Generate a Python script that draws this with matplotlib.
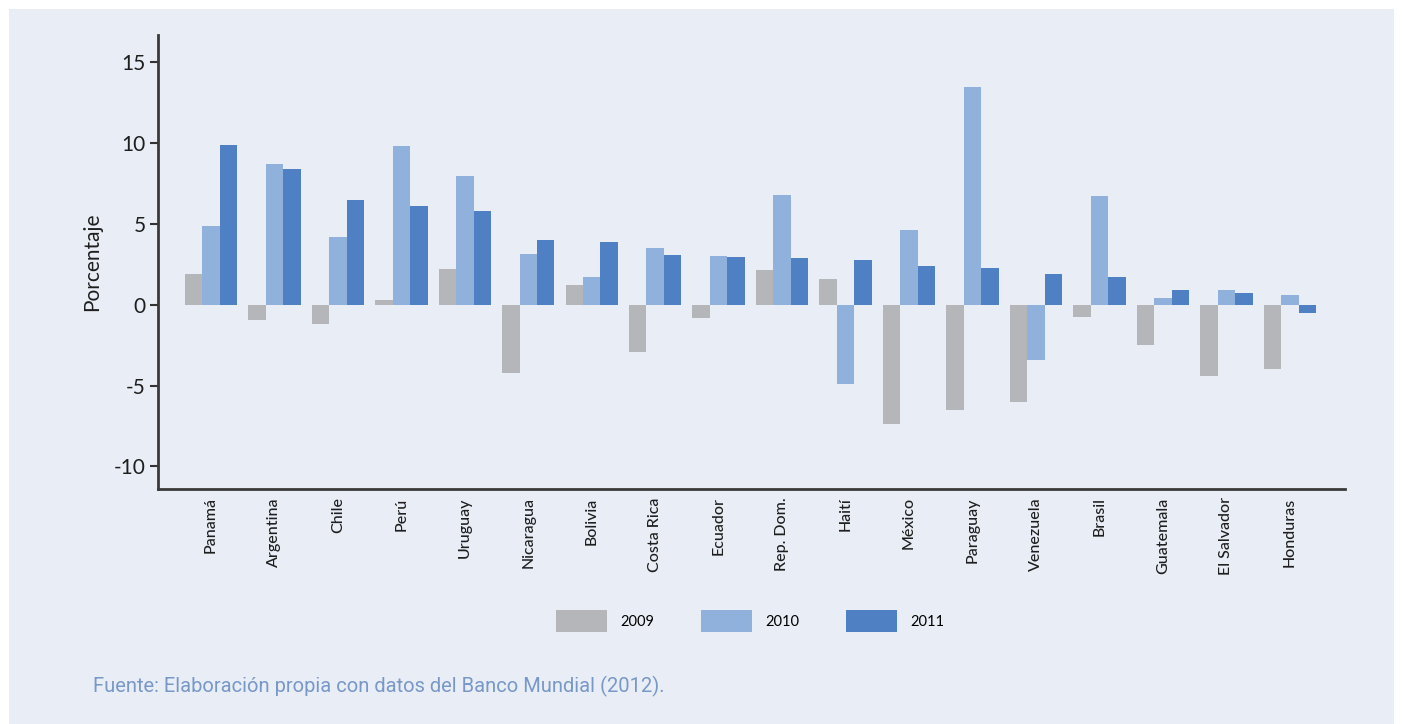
import numpy as np
from matplotlib import pyplot as plt
from matplotlib.patches import Rectangle

# Data (crecimiento, %)
paises = ['Panamá', 'Argentina', 'Chile', 'Perú', 'Uruguay', 'Nicaragua', 'Bolivia',
          'Costa Rica', 'Ecuador', 'Rep. Dom.', 'Haití', 'México', 'Paraguay',
          'Venezuela', 'Brasil', 'Guatemala', 'El Salvador', 'Honduras']
v2009 = [1.9, -0.95, -1.2, 0.3, 2.2, -4.25, 1.2, -2.95, -0.83, 2.15, 1.6, -7.4,
         -6.5, -6.0, -0.73, -2.5, -4.4, -3.95]
v2010 = [4.9, 8.7, 4.2, 9.8, 8.0, 3.15, 1.75, 3.5, 3.05, 6.8, -4.9, 4.65,
         13.5, -3.4, 6.75, 0.4, 0.93, 0.58]
v2011 = [9.9, 8.4, 6.5, 6.1, 5.8, 4.0, 3.9, 3.1, 2.98, 2.9, 2.8, 2.4,
         2.3, 1.9, 1.7, 0.93, 0.72, -0.52]
anios = ['2009', '2010', '2011']
yticks = [-10, -5, 0, 5, 10, 15]

colores = ['#b5b6b9', '#8fb1db', '#4f80c4']
fondo = '#e9edf5'

plt.rcParams['font.family'] = ['Lato', 'DejaVu Sans']

W, H = 1403, 724
fig = plt.figure(figsize=(W / 100, H / 100), dpi=100, facecolor='white')
# light panel behind everything
fig.patches.append(Rectangle((9 / W, 0), 1 - 18 / W, 1 - 9 / H, transform=fig.transFigure,
                             facecolor=fondo, edgecolor='none', zorder=-5))

ax = fig.add_axes([158 / W, 1 - 489 / H, (1345 - 158) / W, (489 - 35) / H])
ax.set_facecolor(fondo)

x = np.arange(len(paises))
w = 0.275
for k, (vals, lab) in enumerate(zip([v2009, v2010, v2011], anios)):
    ax.bar(x + (k - 1) * w, vals, width=w, color=colores[k], label=lab, zorder=2)

ax.set_xlim(-0.835, 17.87)
ax.set_ylim(-11.4, 16.7)
ax.set_yticks(yticks)
ax.set_yticklabels([str(t) for t in yticks], fontsize=15, color='#1e1e1e')
ax.set_xticks(x)
ax.set_xticklabels(paises, rotation=90, fontsize=11.5, color='#1e1e1e', fontweight='medium')
ax.tick_params(axis='x', length=0, pad=6)
ax.tick_params(axis='y', length=6, width=1.5, color='#333333', pad=3)

for s in ['top', 'right']:
    ax.spines[s].set_visible(False)
for s in ['left', 'bottom']:
    ax.spines[s].set_color('#3a3a3a')
    ax.spines[s].set_linewidth(2)

ax.set_ylabel('Porcentaje', fontsize=15, color='#1e1e1e', labelpad=8)

fig.legend(loc='center', bbox_to_anchor=(750 / W, 1 - 621 / H), ncol=3, frameon=False,
           fontsize=10.5, handlelength=3.5, handleheight=1.9, handletextpad=0.9,
           columnspacing=3.2)

fig.text(93 / W, 1 - 686 / H, 'Fuente: Elaboración propia con datos del Banco Mundial (2012).',
         fontsize=14.5, color='#7898c8', va='center', ha='left', family=['Roboto', 'DejaVu Sans'])

plt.savefig('out.png', dpi=100, facecolor='white')
